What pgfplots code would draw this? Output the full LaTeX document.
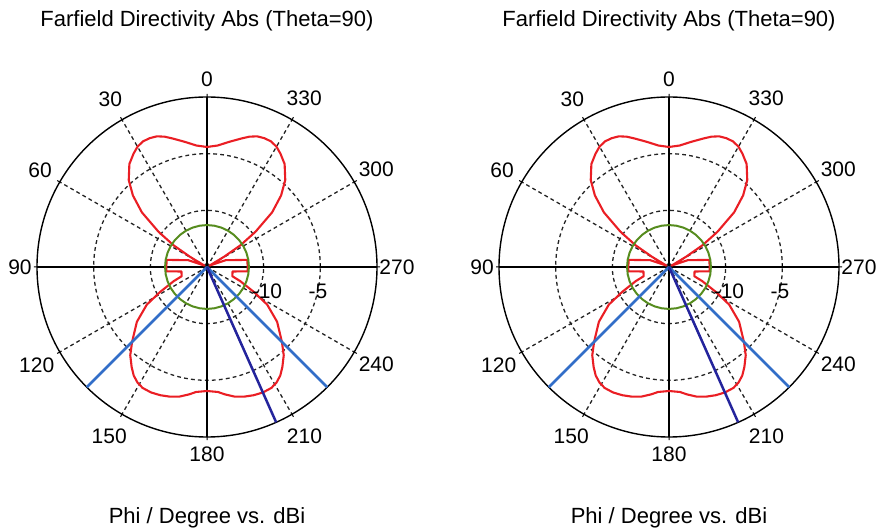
\documentclass[border=0pt]{standalone}
\usepackage{fontspec}
\setmainfont{Liberation Sans}
\usepackage{pgfplots}
\usepgfplotslibrary{polar}
\usepackage{pgfplotstable}
\pgfplotsset{compat=1.18}

\definecolor{cstred}{RGB}{234,30,36}
\definecolor{cstgreen}{RGB}{86,140,30}
\definecolor{cstblue}{RGB}{50,110,200}
\definecolor{cstnavy}{RGB}{36,36,156}
\definecolor{gridgray}{RGB}{35,35,35}

% Farfield directivity (dBi) vs phi (deg); plot range -15 ... 0 dBi
\pgfplotstableread{
phi db
0 -4.41
5 -4.24
10 -3.79
15 -3.26
18 -2.91
21 -2.65
24 -2.56
27 -2.56
30 -2.74
33 -3.09
37 -3.62
42 -4.68
46 -5.91
50 -7.50
54 -9.71
57 -11.47
59 -13.24
61 -14.74
70 -13.24
80 -11.38
96 -11.38
100 -12.71
110 -12.62
113 -11.82
118 -10.32
122 -8.74
128 -7.15
135 -5.65
139 -4.68
143 -3.95
146 -3.44
149 -3.10
152 -2.91
156 -2.88
160 -2.96
164 -3.10
168 -3.31
172 -3.65
175 -3.93
180 -4.06
185 -3.93
188 -3.65
192 -3.31
196 -3.10
200 -2.96
204 -2.88
208 -2.91
211 -3.10
214 -3.44
217 -3.95
221 -4.68
225 -5.65
232 -7.15
238 -8.74
242 -10.32
247 -11.82
250 -12.62
260 -12.71
264 -11.38
280 -11.38
290 -13.24
299 -14.74
301 -13.24
303 -11.47
306 -9.71
310 -7.50
314 -5.91
318 -4.68
323 -3.62
327 -3.09
330 -2.74
333 -2.56
336 -2.56
339 -2.65
342 -2.91
345 -3.26
350 -3.79
355 -4.24
360 -4.41
}\redpat

\pgfplotstableread{
phi db
0 -11.3
10 -11.3
20 -11.3
30 -11.3
40 -11.3
50 -11.3
60 -11.3
70 -11.3
80 -11.3
90 -11.3
100 -11.3
110 -11.3
120 -11.3
130 -11.3
140 -11.3
150 -11.3
160 -11.3
170 -11.3
180 -11.3
190 -11.3
200 -11.3
210 -11.3
220 -11.3
230 -11.3
240 -11.3
250 -11.3
260 -11.3
270 -11.3
280 -11.3
290 -11.3
300 -11.3
310 -11.3
320 -11.3
330 -11.3
340 -11.3
350 -11.3
360 -11.3
}\greenpat

\pgfplotstableread{
phi db
135 0
135 -15
}\beamA
\pgfplotstableread{
phi db
225 0
225 -15
}\beamB
\pgfplotstableread{
phi db
204 0
204 -15
}\beamC

\pgfplotsset{
  farfield/.style={
    width=340pt, height=340pt, scale only axis,
    anchor=center,
    xmin=0, xmax=360, ymin=0, ymax=15,
    xtick={0,30,...,330}, xticklabels={},
    ytick={5,10}, yticklabels={},
    grid=major,
    major grid style={gridgray, line width=1.3pt, dash pattern=on 3.8pt off 3.2pt},
    axis line style={black, line width=1.4pt},
    major tick length=3pt,
    tick style={black, line width=1pt},
    clip=false,
  },
}
\newcommand\pat[2]{\addplot[#1] table[x expr=\thisrow{phi}+90, y expr=\thisrow{db}+15] {#2};}
\newcommand\farfieldcontent{%
  \addplot[black, line width=1.4pt] coordinates {(0,15) (180,15)};
  \addplot[black, line width=1.4pt] coordinates {(90,15) (270,15)};
  \pat{cstred, line width=2.1pt, line join=round}{\redpat}
  \pat{cstgreen, line width=2pt}{\greenpat}
  \pat{cstblue, line width=2.6pt}{\beamA}
  \pat{cstblue, line width=2.6pt}{\beamB}
  \pat{cstnavy, line width=2.5pt}{\beamC}
  \node[font=\fontsize{21}{24}\selectfont] at (axis cs:90,16.59) {0};
  \node[font=\fontsize{21}{24}\selectfont] at (axis cs:120,17.05) {30};
  \node[font=\fontsize{21}{24}\selectfont] at (axis cs:150,17.0) {60};
  \node[font=\fontsize{21}{24}\selectfont] at (axis cs:180,16.5) {90};
  \node[font=\fontsize{21}{24}\selectfont] at (axis cs:210,17.35) {120};
  \node[font=\fontsize{21}{24}\selectfont] at (axis cs:240,17.25) {150};
  \node[font=\fontsize{21}{24}\selectfont] at (axis cs:270,16.55) {180};
  \node[font=\fontsize{21}{24}\selectfont] at (axis cs:300,17.2) {210};
  \node[font=\fontsize{21}{24}\selectfont] at (axis cs:330,17.25) {240};
  \node[font=\fontsize{21}{24}\selectfont] at (axis cs:0,16.76) {270};
  \node[font=\fontsize{21}{24}\selectfont] at (axis cs:30,17.25) {300};
  \node[font=\fontsize{21}{24}\selectfont] at (axis cs:60,17.15) {330};
  \node[font=\fontsize{21}{24}\selectfont, yshift=-24pt] at (axis cs:0,5.29) {-10};
  \node[font=\fontsize{21}{24}\selectfont, yshift=-24pt] at (axis cs:0,9.79) {-5};
  \node[font=\fontsize{22}{26}\selectfont, anchor=base] at (axis cs:90,21.26) {Farfield Directivity Abs (Theta=90)};
  \node[font=\fontsize{22}{26}\selectfont, anchor=base] at (axis cs:270,22.59) {Phi / Degree vs. dBi};
}

\begin{document}
\begin{tikzpicture}[x=1pt,y=1pt]
\path[use as bounding box] (0,0) rectangle (886,532);
\begin{polaraxis}[farfield, at={(207pt,265pt)}]
\farfieldcontent
\end{polaraxis}
\begin{polaraxis}[farfield, at={(669pt,265pt)}]
\farfieldcontent
\end{polaraxis}
\end{tikzpicture}
\end{document}
